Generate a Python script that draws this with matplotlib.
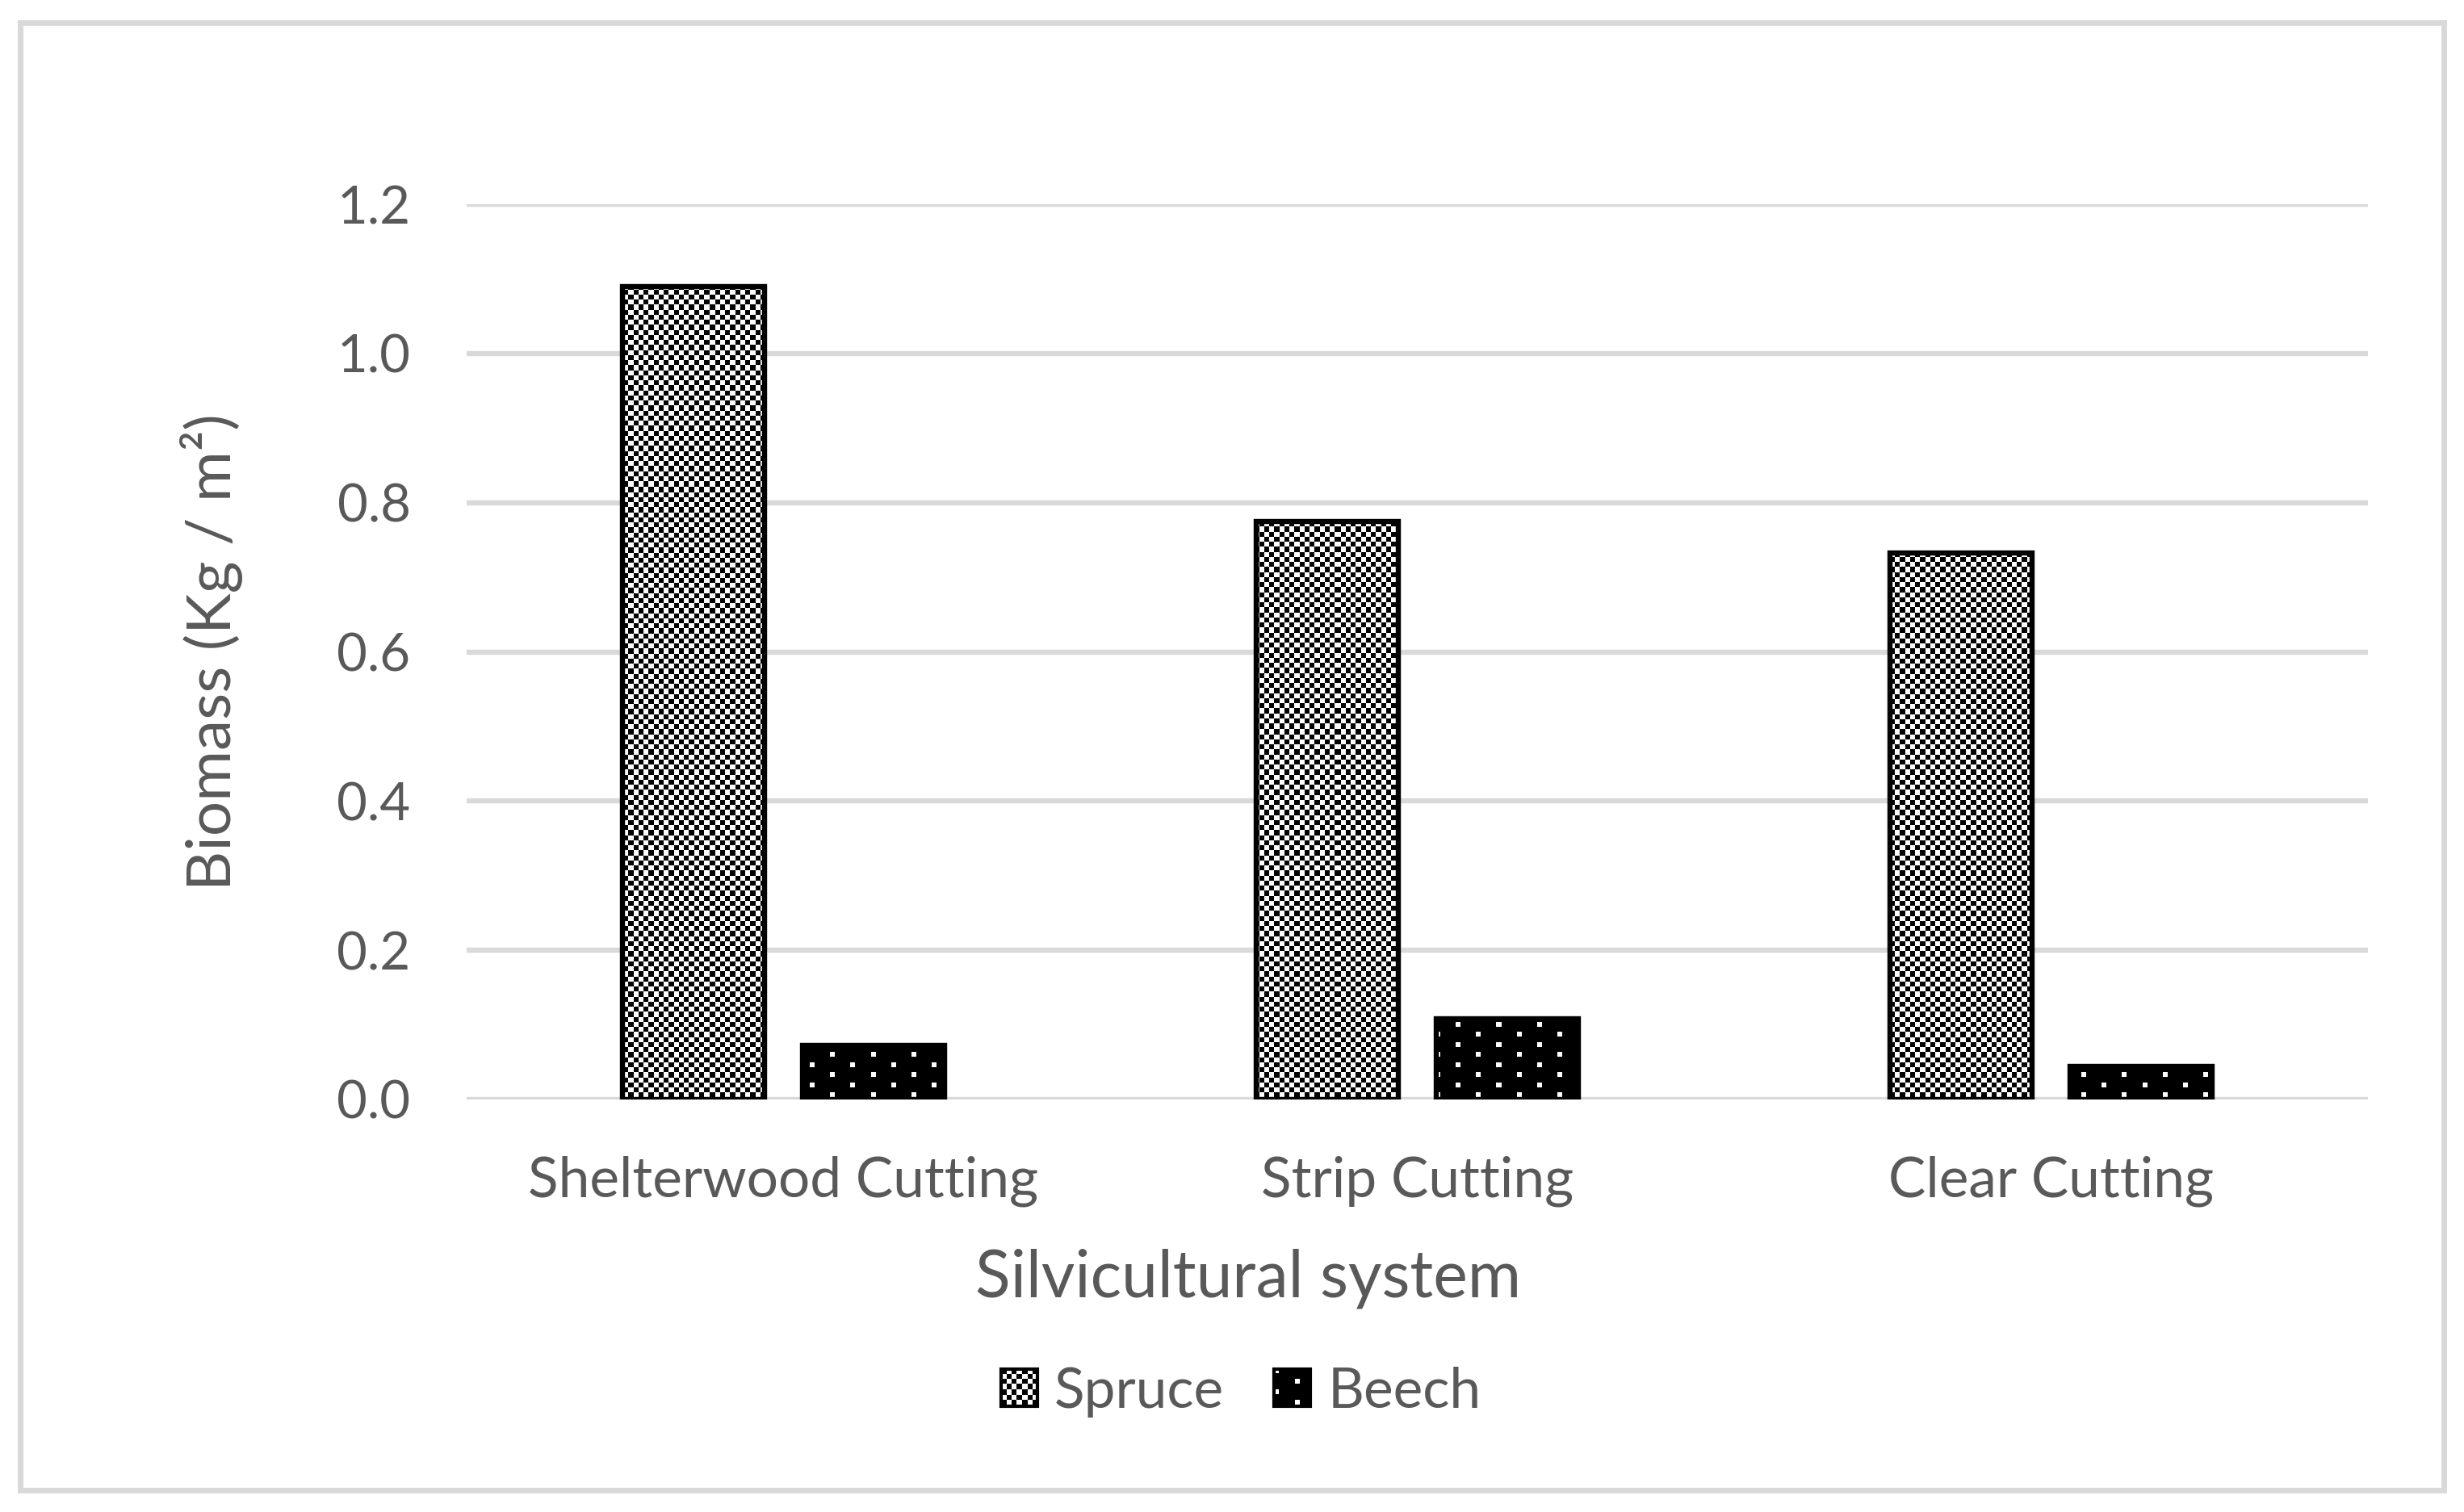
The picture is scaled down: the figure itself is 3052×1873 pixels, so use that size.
import matplotlib
matplotlib.use("Agg")
import matplotlib.pyplot as plt
import numpy as np
from matplotlib.patches import Rectangle

# data
categories = ["Shelterwood Cutting", "Strip Cutting", "Clear Cutting"]
spruce = [1.09, 0.775, 0.733]
beech = [0.072, 0.108, 0.044]
series_names = ["Spruce", "Beech"]
yticks = [0.0, 0.2, 0.4, 0.6, 0.8, 1.0, 1.2]

W, H = 3052, 1873
TEXT = "#595959"
GRID = "#D9D9D9"
plt.rcParams["font.family"] = ["Lato", "DejaVu Sans"]


def checker(h, w, s=6.25):
    i, j = np.indices((h, w))
    return ((np.floor(i / s) + np.floor(j / s)) % 2).astype(float)


def dots(h, w, px=50, py=25, d=6):
    i, j = np.indices((h, w))
    a = ((j % px) < d) & ((i % py) < d)
    b = (((j + px / 2) % px) < d) & (((i + py / 2) % py) < d)
    return (a | b).astype(float)


fig = plt.figure(figsize=(W / 100, H / 100), dpi=100)
left, right, top, bottom = 578, 2933, 253, 1362
ax = fig.add_axes([left / W, 1 - bottom / H, (right - left) / W, (bottom - top) / H])

x = np.arange(len(categories))
bw, off = 0.225, 0.142
ax.set_xlim(-0.5, len(categories) - 0.5)
ax.set_ylim(0, 1.2)

b1 = ax.bar(x - off, spruce, bw, facecolor="none", edgecolor="black", linewidth=4.6, zorder=3)
b2 = ax.bar(x + off, beech, bw, facecolor="none", edgecolor="black", linewidth=4.6, zorder=3)

aw, ah = right - left, bottom - top
textures = [checker(ah, aw), dots(ah, aw)]
for bars, tex in zip([b1, b2], textures):
    for bar in bars:
        im = ax.imshow(tex, extent=(-0.5, len(categories) - 0.5, 0, 1.2), aspect="auto",
                       interpolation="nearest", cmap="gray", vmin=0, vmax=1, zorder=2)
        im.set_clip_path(bar)

ax.set_yticks(yticks)
ax.set_yticklabels([f"{v:.1f}" for v in yticks])
ax.set_xticks(x)
ax.set_xticklabels(categories)
ax.grid(axis="y", color=GRID, linewidth=4.6, zorder=0)
ax.set_axisbelow(True)
for s in ax.spines.values():
    s.set_visible(False)
ax.tick_params(axis="both", length=0, colors=TEXT)
ax.tick_params(axis="y", pad=50, labelsize=47)
ax.tick_params(axis="x", pad=50, labelsize=50)

ax.set_xlabel("Silvicultural system", fontsize=58, color=TEXT, va="center")
ax.xaxis.set_label_coords(0.411, -0.2)
ax.set_ylabel("Biomass (Kg / m²)", fontsize=55, color=TEXT, va="center")
ax.yaxis.set_label_coords(-0.134, 0.5)

handles = [Rectangle((0, 0), 1, 1, facecolor="none", edgecolor="black", linewidth=3),
           Rectangle((0, 0), 1, 1, facecolor="none", edgecolor="black", linewidth=3)]
leg = fig.legend(handles, series_names, loc="center", bbox_to_anchor=(1537 / W, 1 - 1724 / H),
                 ncol=2, frameon=False, fontsize=50, handlelength=0.65, handleheight=0.65,
                 handletextpad=0.3, columnspacing=0.9, labelcolor=TEXT)

# pattern fills for the legend keys
fig.canvas.draw()
r = fig.canvas.get_renderer()
for hp, tex_fn in zip(leg.legend_handles, [checker, dots]):
    bb = hp.get_window_extent(r)
    hax = fig.add_axes([bb.x0 / W, bb.y0 / H, bb.width / W, bb.height / H], zorder=-1)
    hax.imshow(tex_fn(int(round(bb.height)), int(round(bb.width))), aspect="auto",
               interpolation="nearest", cmap="gray", vmin=0, vmax=1)
    hax.axis("off")

fig.patches.append(Rectangle((25 / W, 1 - 1846 / H), (3027 - 25) / W, (1846 - 28) / H,
                             transform=fig.transFigure, facecolor="none", edgecolor=GRID,
                             linewidth=5))

fig.savefig("out.png", dpi=100)
